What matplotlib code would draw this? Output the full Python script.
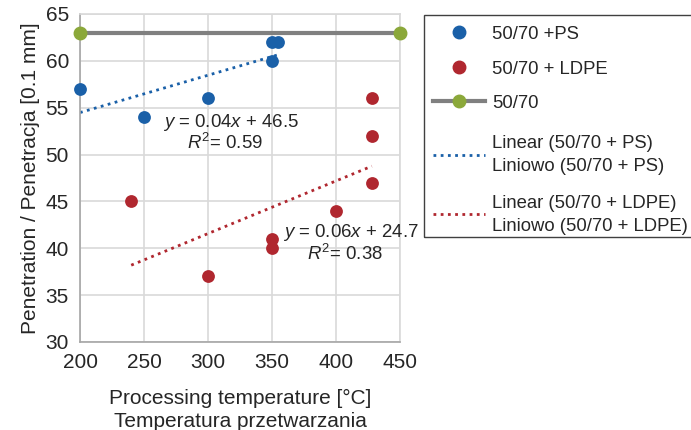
import numpy as np
import matplotlib
matplotlib.use("Agg")
import matplotlib.pyplot as plt
from matplotlib.lines import Line2D
from matplotlib.patches import Rectangle

plt.rcParams['font.family'] = ['Liberation Sans', 'DejaVu Sans']
plt.rcParams['mathtext.fontset'] = 'custom'
plt.rcParams['mathtext.rm'] = 'Liberation Sans'
plt.rcParams['mathtext.it'] = 'Liberation Sans:italic'

# Measurements
ps_temp = [200, 250, 300, 350, 350, 355]
ps_pen = [57, 54, 56, 60, 62, 62]
ldpe_temp = [240, 300, 350, 350, 400, 428, 428, 428]
ldpe_pen = [45, 37, 41, 40, 44, 56, 52, 47]
base_temp = [200, 450]
base_pen = [63, 63]

legend_labels = ['50/70 +PS', '50/70 + LDPE', '50/70',
                 ['Linear (50/70 + PS)', 'Liniowo (50/70 + PS)'],
                 ['Linear (50/70 + LDPE)', 'Liniowo (50/70 + LDPE)']]

c_ps = '#1A60A8'
c_ldpe = '#B0272F'
c_base = '#8BA83A'
c_line = '#808080'
c_text = '#262626'

W, H = 691, 430
fig = plt.figure(figsize=(W / 100, H / 100), dpi=100)
ax = fig.add_axes([80 / W, 1 - 342 / H, 320 / W, 328 / H])

# Linear trend lines (least squares)
def trend(x, y):
    k, b = np.polyfit(x, y, 1)
    r2 = np.corrcoef(x, y)[0, 1] ** 2
    return k, b, r2

k1, b1, r21 = trend(ps_temp, ps_pen)
k2, b2, r22 = trend(ldpe_temp, ldpe_pen)
xs1 = np.array([min(ps_temp), max(ps_temp)])
xs2 = np.array([min(ldpe_temp), max(ldpe_temp)])

dots = (0, (1, 1.6))
ax.plot(base_temp, base_pen, color=c_line, lw=3, marker='o', ms=9,
        mfc=c_base, mec=c_base, zorder=3, clip_on=False)
ax.plot(xs1, k1 * xs1 + b1, color=c_ps, lw=2, ls=dots, zorder=2)
ax.plot(xs2, k2 * xs2 + b2, color=c_ldpe, lw=2, ls=dots, zorder=2)
ax.scatter(ps_temp, ps_pen, s=85, color=c_ps, zorder=4, linewidths=0,
           clip_on=False)
ax.scatter(ldpe_temp, ldpe_pen, s=85, color=c_ldpe, zorder=4, linewidths=0)

# Trend equations
fs_ann = 13.4
ax.text(264.8, 52.9, r'$y$ = %.2f$x$ + %.1f' % (k1, b1), fontsize=fs_ann,
        color=c_text, va='baseline', ha='left')
ax.text(283.4, 50.55, r'$R^2$= %.2f' % r21, fontsize=fs_ann,
        color=c_text, va='baseline', ha='left')
ax.text(358.8, 41.16, r'$y$ = %.2f$x$ + %.1f' % (k2, b2), fontsize=fs_ann,
        color=c_text, va='baseline', ha='left')
ax.text(377.1, 38.75, r'$R^2$= %.2f' % r22, fontsize=fs_ann,
        color=c_text, va='baseline', ha='left')

ax.set_xlim(200, 450)
ax.set_ylim(30, 65)
ax.set_xticks(np.arange(200, 451, 50))
ax.set_yticks(np.arange(30, 66, 5))
ax.grid(True, color='#D9D9D9', lw=1.2)
ax.set_axisbelow(True)
for s in ax.spines.values():
    s.set_color('#D9D9D9')
    s.set_linewidth(1.2)
ax.spines['left'].set_color('#A6A6A6')
ax.spines['bottom'].set_color('#A6A6A6')
ax.tick_params(length=0, labelsize=15, colors=c_text, pad=8)

ax.set_xlabel('Processing temperature [°C]\nTemperatura przetwarzania',
              fontsize=15, color=c_text, labelpad=12, linespacing=1.25)
ax.set_ylabel('Penetration / Penetracja [0.1 mm]', fontsize=15,
              color=c_text, labelpad=4)

# Legend box laid out in pixel positions of the figure
def fx(x):
    return x / W

def fy(y):
    return 1 - y / H

fig.add_artist(Rectangle((fx(424), fy(237)), fx(693) - fx(424),
                         fy(15) - fy(237), transform=fig.transFigure,
                         fill=False, edgecolor='#404040', lw=1.0))

fs_leg = 13.3
cap_px = 0.716 * fs_leg * 100 / 72
h0, h1, hm = 433, 485, 459
tx = 492

def leg_text(y, s):
    fig.text(fx(tx), fy(y + cap_px / 2), s, fontsize=fs_leg, color=c_text,
             ha='left', va='baseline')

def leg_line(y, **kw):
    fig.add_artist(Line2D([fx(h0), fx(h1)], [fy(y), fy(y)],
                          transform=fig.transFigure, **kw))

def leg_marker(y, color):
    fig.add_artist(Line2D([fx(hm)], [fy(y)], transform=fig.transFigure,
                          ls='none', marker='o', ms=9, color=color))

leg_marker(32, c_ps)
leg_text(32, legend_labels[0])
leg_marker(67, c_ldpe)
leg_text(67, legend_labels[1])
leg_line(101, color=c_line, lw=3)
leg_marker(101, c_base)
leg_text(101, legend_labels[2])
leg_line(155, color=c_ps, lw=2, ls=dots)
leg_text(141, legend_labels[3][0])
leg_text(164, legend_labels[3][1])
leg_line(214, color=c_ldpe, lw=2, ls=dots)
leg_text(201, legend_labels[4][0])
leg_text(224, legend_labels[4][1])

fig.savefig('out.png', dpi=100)
